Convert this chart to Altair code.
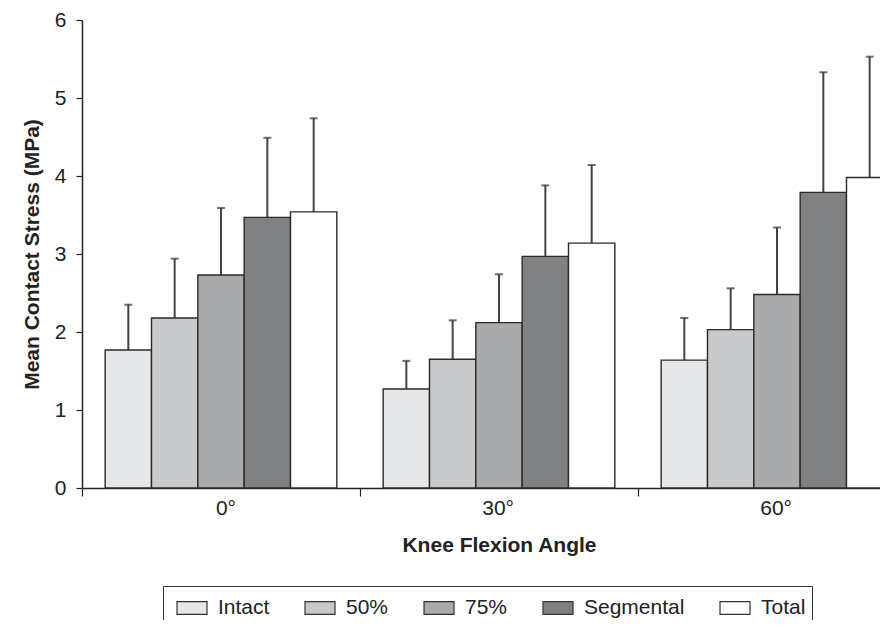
import altair as alt
import pandas as pd

angles = ["0°", "30°", "60°"]
series = ["Intact", "50%", "75%", "Segmental", "Total"]
colors = ["#e6e7e9", "#c8c9cb", "#a9aaac", "#808183", "#ffffff"]

# mean contact stress (MPa) per angle, in series order
mean_0 = [1.77, 2.18, 2.73, 3.47, 3.54]
mean_30 = [1.27, 1.65, 2.12, 2.97, 3.14]
mean_60 = [1.64, 2.03, 2.48, 3.79, 3.98]
# top of the error bar (mean + SD)
upper_0 = [2.35, 2.94, 3.59, 4.49, 4.74]
upper_30 = [1.63, 2.15, 2.74, 3.88, 4.14]
upper_60 = [2.18, 2.56, 3.34, 5.33, 5.53]

rows = []
for ang, means, uppers in zip(angles, [mean_0, mean_30, mean_60], [upper_0, upper_30, upper_60]):
    for s, m, u in zip(series, means, uppers):
        rows.append({"Angle": ang, "Series": s, "Mean": m, "Upper": u})
df = pd.DataFrame(rows)

FONT = "Liberation Sans"
FS = 21
W = 834
H = 468

x_enc = alt.X(
    "Angle:N",
    sort=angles,
    title="Knee Flexion Angle",
    scale=alt.Scale(paddingInner=0, paddingOuter=0),
    axis=alt.Axis(
        bandPosition=0,
        labelOffset=15,
        labelAngle=0,
        tickSize=8,
        labelPadding=12,
        titlePadding=16,
        labelFontSize=FS,
        titleFontSize=FS,
        titleFontWeight="bold",
        labelFont=FONT,
        titleFont=FONT,
        domainColor="#222",
        tickColor="#222",
        labelColor="#222",
        titleColor="#222",
        domainWidth=1.5,
        tickWidth=1.2,
    ),
)
xoff = alt.XOffset("Series:N", sort=series, scale=alt.Scale(paddingInner=0, paddingOuter=0.5))

y_scale = alt.Scale(domain=[0, 6], nice=False)

bars = alt.Chart(df).mark_bar(stroke="#2a2a2a", strokeWidth=1.4).encode(
    x=x_enc,
    xOffset=xoff,
    y=alt.Y(
        "Mean:Q",
        scale=y_scale,
        title="Mean Contact Stress (MPa)",
        axis=alt.Axis(
            values=[0, 1, 2, 3, 4, 5, 6],
            format="d",
            grid=False,
            tickSize=6,
            labelPadding=10,
            labelFontSize=FS,
            titleFontSize=FS,
            titleFontWeight="bold",
            labelFont=FONT,
            titleFont=FONT,
            domainColor="#222",
            tickColor="#222",
            labelColor="#222",
            titleColor="#222",
            domainWidth=1.5,
            tickWidth=1.2,
            titlePadding=12,
        ),
    ),
    color=alt.Color(
        "Series:N",
        sort=series,
        scale=alt.Scale(domain=series, range=colors),
        legend=alt.Legend(
            title=" ",
            titleOrient="left",
            titleFontSize=FS,
            titlePadding=7,
            orient="none",
            legendX=81,
            legendY=566,
            direction="horizontal",
            strokeColor="#333",
            padding=6,
            symbolType="M-1,-0.43H1V0.43H-1Z",
            symbolSize=900,
            symbolStrokeColor="#333",
            symbolStrokeWidth=1.2,
            symbolOpacity=1,
            labelFontSize=FS,
            labelFont=FONT,
            labelColor="#222",
            labelOffset=10,
            columnPadding=32,
        ),
    ),
)

err = alt.Chart(df).mark_rule(color="#444", strokeWidth=2).encode(
    x=alt.X("Angle:N", sort=angles),
    xOffset=alt.XOffset("Series:N", sort=series),
    y=alt.Y("Mean:Q", scale=y_scale),
    y2="Upper:Q",
)

caps = alt.Chart(df).mark_tick(color="#333", thickness=2, size=8).encode(
    x=alt.X("Angle:N", sort=angles),
    xOffset=alt.XOffset("Series:N", sort=series),
    y=alt.Y("Upper:Q", scale=y_scale),
)

chart = (
    alt.layer(err, caps, bars)
    .properties(
        width=W,
        height=H,
        background="white",
        autosize=alt.AutoSizeParams(type="none"),
        padding={"left": 74, "top": 12, "right": -36, "bottom": 132},
    )
    .configure_view(stroke=None)
)

chart.save("out.html", embed_options={"renderer": "svg", "actions": False})
